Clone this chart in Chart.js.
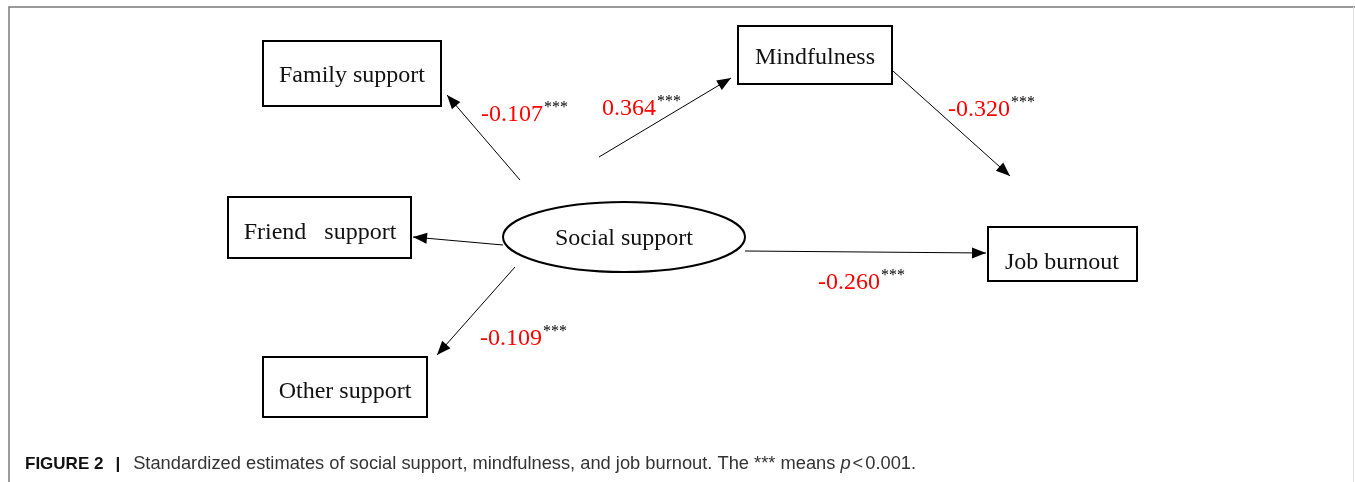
<!DOCTYPE html>
<html>
<head>
<meta charset="utf-8">
<script src="https://cdn.jsdelivr.net/npm/chart.js@4.4.1/dist/chart.umd.min.js"></script>
<style>
  html, body { margin: 0; padding: 0; background: #fff; }
  #wrap { width: 1355px; height: 482px; }
</style>
</head>
<body>
<div id="wrap"><canvas id="diagram" width="1355" height="482"></canvas></div>
<script>
// path model: nodes, paths and standardized coefficients
const nodeLabels = ['Family support', 'Mindfulness', 'Friend   support', 'Social support', 'Job burnout', 'Other support'];
const pathFrom = ['Social support', 'Social support', 'Mindfulness', 'Social support', 'Social support', 'Social support'];
const pathTo = ['Family support', 'Mindfulness', 'Job burnout', 'Friend   support', 'Job burnout', 'Other support'];
const pathCoef = [-0.107, 0.364, -0.320, null, -0.260, -0.109];
const pathSig = ['***', '***', '***', '', '***', '***'];
const captionText = 'Standardized estimates of social support, mindfulness, and job burnout. The *** means ';

// layout (axis units match the figure's pixel grid)
const nodeLayout = {
  'Family support':   { shape: 'box', x0: 263, y0: 41, x1: 441, y1: 106, tx: 352, ty: 76 },
  'Mindfulness':      { shape: 'box', x0: 738, y0: 26, x1: 892, y1: 84, tx: 815, ty: 58 },
  'Friend   support': { shape: 'box', x0: 228, y0: 197, x1: 411, y1: 258, tx: 320, ty: 233 },
  'Social support':   { shape: 'ellipse', cx: 624, cy: 237, rx: 121, ry: 35, tx: 624, ty: 239 },
  'Job burnout':      { shape: 'box', x0: 988, y0: 227, x1: 1137, y1: 281, tx: 1062, ty: 263 },
  'Other support':    { shape: 'box', x0: 263, y0: 357, x1: 427, y1: 417, tx: 345, ty: 392 }
};
const edgeLayout = [
  { a: [520, 180], b: [447, 95], lx: 481, ly: 115 },
  { a: [599, 157], b: [731, 78], lx: 602, ly: 109 },
  { a: [893, 71], b: [1010, 176], lx: 948, ly: 110 },
  { a: [503, 245], b: [413, 237] },
  { a: [745, 251], b: [986, 253], lx: 818, ly: 283 },
  { a: [515, 267], b: [437, 355], lx: 480, ly: 339 }
];

const datasets = pathFrom.map((from, i) => ({
  label: from + ' -> ' + pathTo[i],
  data: [
    { x: edgeLayout[i].a[0], y: edgeLayout[i].a[1] },
    { x: edgeLayout[i].b[0], y: edgeLayout[i].b[1] }
  ],
  showLine: true,
  borderColor: '#000',
  borderWidth: 1,
  pointRadius: 0,
  fill: false
}));

const diagramPlugin = {
  id: 'diagram',
  beforeDatasetsDraw(chart) {
    const ctx = chart.ctx;
    const xs = chart.scales.x, ys = chart.scales.y;
    ctx.save();
    // figure frame
    ctx.strokeStyle = '#7a7a7a';
    ctx.lineWidth = 1.5;
    ctx.beginPath();
    ctx.moveTo(xs.getPixelForValue(9), ys.getPixelForValue(482));
    ctx.lineTo(xs.getPixelForValue(9), ys.getPixelForValue(7));
    ctx.lineTo(xs.getPixelForValue(1355), ys.getPixelForValue(7));
    ctx.stroke();
    ctx.strokeStyle = '#e2e2e2';
    ctx.lineWidth = 1;
    ctx.beginPath();
    ctx.moveTo(xs.getPixelForValue(1353.5), ys.getPixelForValue(7));
    ctx.lineTo(xs.getPixelForValue(1353.5), ys.getPixelForValue(482));
    ctx.stroke();

    // nodes
    ctx.strokeStyle = '#000';
    ctx.lineWidth = 2;
    ctx.fillStyle = '#111';
    ctx.font = '24px "Liberation Serif", "Times New Roman", serif';
    ctx.textAlign = 'center';
    ctx.textBaseline = 'middle';
    nodeLabels.forEach(name => {
      const n = nodeLayout[name];
      ctx.beginPath();
      if (n.shape === 'box') {
        const x0 = xs.getPixelForValue(n.x0), x1 = xs.getPixelForValue(n.x1);
        const y0 = ys.getPixelForValue(n.y0), y1 = ys.getPixelForValue(n.y1);
        ctx.rect(x0, y0, x1 - x0, y1 - y0);
      } else {
        const cx = xs.getPixelForValue(n.cx), cy = ys.getPixelForValue(n.cy);
        const rx = xs.getPixelForValue(n.cx + n.rx) - cx;
        const ry = ys.getPixelForValue(n.cy + n.ry) - cy;
        ctx.ellipse(cx, cy, Math.abs(rx), Math.abs(ry), 0, 0, Math.PI * 2);
      }
      ctx.stroke();
      ctx.fillText(name, xs.getPixelForValue(n.tx), ys.getPixelForValue(n.ty));
    });
    ctx.restore();
  },
  afterDatasetsDraw(chart) {
    const ctx = chart.ctx;
    const xs = chart.scales.x, ys = chart.scales.y;
    ctx.save();
    // arrow heads
    chart.data.datasets.forEach(ds => {
      const p0 = ds.data[0], p1 = ds.data[1];
      const x0 = xs.getPixelForValue(p0.x), y0 = ys.getPixelForValue(p0.y);
      const x1 = xs.getPixelForValue(p1.x), y1 = ys.getPixelForValue(p1.y);
      const ang = Math.atan2(y1 - y0, x1 - x0);
      const len = 14, half = 5.5;
      ctx.fillStyle = '#000';
      ctx.beginPath();
      ctx.moveTo(x1, y1);
      ctx.lineTo(x1 - len * Math.cos(ang) + half * Math.sin(ang), y1 - len * Math.sin(ang) - half * Math.cos(ang));
      ctx.lineTo(x1 - len * Math.cos(ang) - half * Math.sin(ang), y1 - len * Math.sin(ang) + half * Math.cos(ang));
      ctx.closePath();
      ctx.fill();
    });

    // coefficient labels
    ctx.textAlign = 'left';
    ctx.textBaseline = 'middle';
    pathCoef.forEach((v, i) => {
      if (v === null) return;
      const e = edgeLayout[i];
      const x = xs.getPixelForValue(e.lx), y = ys.getPixelForValue(e.ly);
      const txt = v.toFixed(3);
      ctx.font = '24px "Liberation Serif", "Times New Roman", serif';
      ctx.fillStyle = '#ff0000';
      ctx.fillText(txt, x, y);
      const w = ctx.measureText(txt).width;
      ctx.font = '16px "Liberation Serif", "Times New Roman", serif';
      ctx.fillStyle = '#000';
      ctx.fillText(pathSig[i], x + w + 1, y - 7);
    });

    // caption
    let cx = 25;
    const cy = 464;
    ctx.textBaseline = 'middle';
    ctx.fillStyle = '#111';
    ctx.font = 'bold 17px "Liberation Sans", Arial, sans-serif';
    ctx.fillText('FIGURE 2', cx, cy);
    cx += ctx.measureText('FIGURE 2').width + 12;
    ctx.fillText('|', cx, cy);
    cx += ctx.measureText('|').width + 13;
    ctx.fillStyle = '#333';
    ctx.font = '18.3px "Liberation Sans", Arial, sans-serif';
    ctx.fillText(captionText, cx, cy);
    cx += ctx.measureText(captionText).width;
    ctx.font = 'italic 18.3px "Liberation Sans", Arial, sans-serif';
    ctx.fillText('p', cx, cy);
    cx += ctx.measureText('p').width + 2;
    ctx.font = '18.3px "Liberation Sans", Arial, sans-serif';
    ctx.fillText('<', cx, cy);
    cx += ctx.measureText('<').width + 2;
    ctx.fillText('0.001.', cx, cy);
    ctx.restore();
  }
};

new Chart(document.getElementById('diagram').getContext('2d'), {
  type: 'scatter',
  data: { datasets },
  options: {
    responsive: false,
    animation: false,
    events: [],
    layout: { padding: 0 },
    scales: {
      x: { type: 'linear', min: 0, max: 1355, display: false },
      y: { type: 'linear', min: 0, max: 482, reverse: true, display: false }
    },
    plugins: {
      legend: { display: false },
      tooltip: { enabled: false }
    }
  },
  plugins: [diagramPlugin]
});
</script>
</body>
</html>
